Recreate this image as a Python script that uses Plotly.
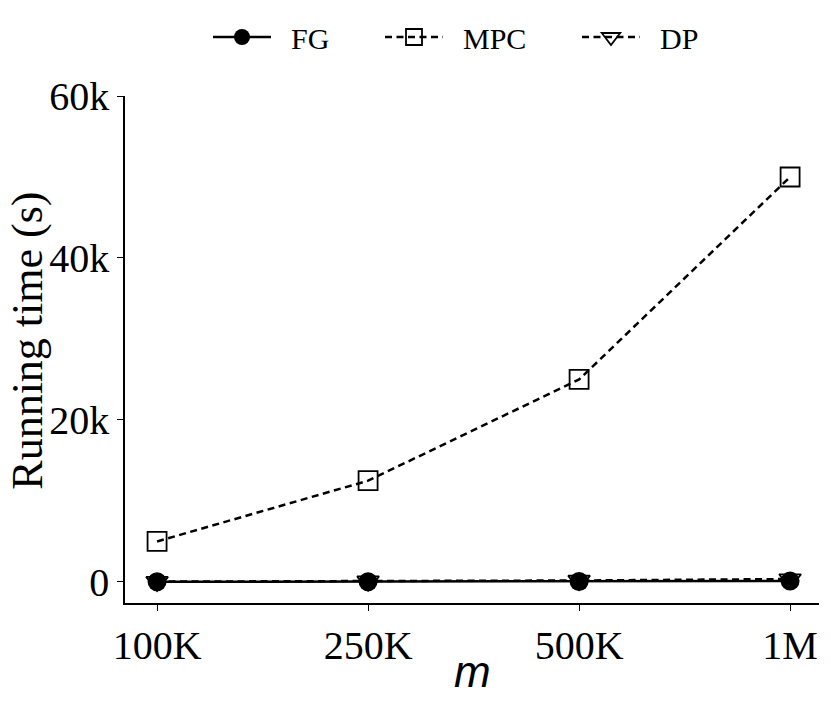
import plotly.graph_objects as go

# running time (s) for each m
M_LABELS = ["100K", "250K", "500K", "1M"]
FG = [15, 30, 60, 120]
MPC = [5000, 12500, 25000, 50000]
DP = [40, 90, 180, 360]

Y_TICKS = [0, 20000, 40000, 60000]
Y_TICKTEXT = ["0", "20k", "40k", "60k"]

SERIF = "Liberation Serif"
PAD = "\u00a0\u00a0"  # push legend text away from the symbol
DASH = "7px,4.5px"

fig = go.Figure()

# DP first so the FG circles sit on top of it
fig.add_trace(
    go.Scatter(
        x=M_LABELS, y=DP, name=PAD + "DP", mode="lines+markers",
        line=dict(color="black", width=2.5, dash=DASH),
        marker=dict(symbol="triangle-down-open", size=19, color="black", line=dict(width=1.8)),
        legend="legend3",
    )
)
fig.add_trace(
    go.Scatter(
        x=M_LABELS, y=MPC, name=PAD + "MPC", mode="lines+markers",
        line=dict(color="black", width=2.5, dash=DASH),
        marker=dict(symbol="square-open", size=19, color="black", line=dict(width=1.8)),
        legend="legend2",
    )
)
fig.add_trace(
    go.Scatter(
        x=M_LABELS, y=FG, name=PAD + "FG", mode="lines+markers",
        line=dict(color="black", width=2.5),
        marker=dict(symbol="circle", size=19, color="black"),
        legend="legend",
    )
)


def leg(px):
    return dict(
        orientation="h", xref="container", yref="container",
        x=px / 831, y=1 - 37 / 705, xanchor="left", yanchor="middle",
        font=dict(family=SERIF, size=30, color="black"),
        bgcolor="rgba(0,0,0,0)", itemwidth=58, visible=True,
    )


fig.update_layout(
    width=831, height=705, showlegend=True,
    margin=dict(l=125, r=12, t=96, b=102, autoexpand=False),
    plot_bgcolor="white", paper_bgcolor="white",
    font=dict(family=SERIF, color="black"),
    legend=leg(208),
    legend2=leg(380),
    legend3=leg(577),
    xaxis=dict(
        type="category", range=[-0.152, 3.137], automargin=False,
        showline=True, linecolor="black", linewidth=1.5,
        showgrid=False, zeroline=False,
        ticks="outside", ticklen=6, tickcolor="black",
        tickfont=dict(family=SERIF, size=40, color="black"),
    ),
    yaxis=dict(
        range=[-2600, 60000], automargin=False,
        showline=True, linecolor="black", linewidth=1.5,
        showgrid=False, zeroline=False,
        tickvals=Y_TICKS, ticktext=Y_TICKTEXT,
        ticks="outside", ticklen=6, tickcolor="black",
        tickfont=dict(family=SERIF, size=40, color="black"),
    ),
)

# axis titles as annotations so they sit where the reference has them
fig.add_annotation(
    text="<i>m</i>", xref="paper", yref="paper", x=0.5, y=-0.135,
    xanchor="center", yanchor="middle", showarrow=False,
    font=dict(family="Liberation Sans", size=44, color="black"),
)
fig.add_annotation(
    text="Running time (s)", xref="paper", yref="paper", x=-0.14, y=0.517,
    xanchor="center", yanchor="middle", textangle=-90, showarrow=False,
    font=dict(family=SERIF, size=44, color="black"),
)

# drop the page's default body margin so the figure fills the window
fig.write_html(
    "out.html",
    config={"displayModeBar": False},
    post_script="document.body.style.margin='0';",
)
